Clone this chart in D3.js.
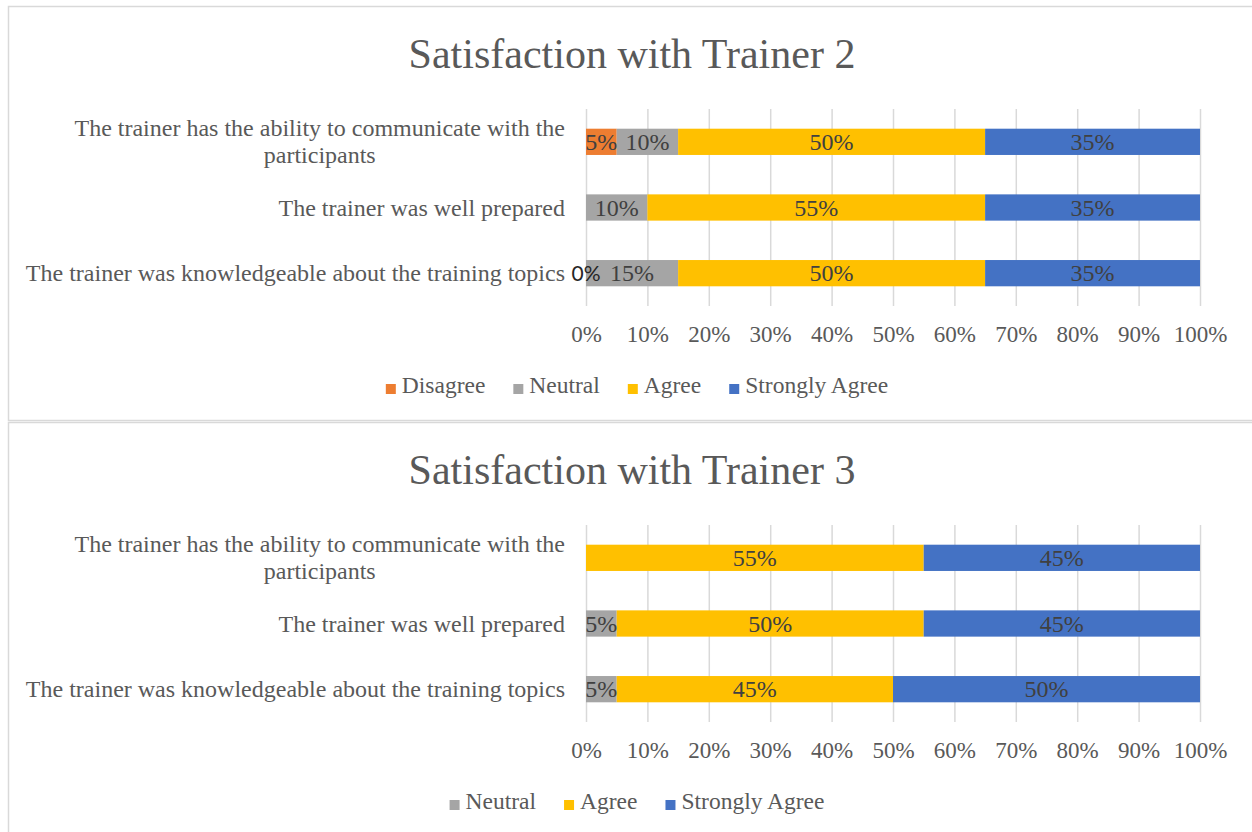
<!DOCTYPE html>
<html>
<head>
<meta charset="utf-8">
<script src="https://cdn.jsdelivr.net/npm/d3@7"></script>
<style>
  body { margin: 0; background: #fff; }
  svg { display: block; }
</style>
</head>
<body>
<svg id="chart" width="1252" height="832"></svg>
<script>
// Values (percent of responses).
var categories = [
  "The trainer has the ability to communicate with the participants",
  "The trainer was well prepared",
  "The trainer was knowledgeable about the training topics"
];
var categoryLines = [
  ["The trainer has the ability to communicate with the", "participants"],
  ["The trainer was well prepared"],
  ["The trainer was knowledgeable about the training topics"]
];
var tickValues = [0, 0.1, 0.2, 0.3, 0.4, 0.5, 0.6, 0.7, 0.8, 0.9, 1];

var seriesNames2 = ["Disagree", "Neutral", "Agree", "Strongly Agree"];
var disagree2 = [0.05, null, 0];
var neutral2 = [0.10, 0.10, 0.15];
var agree2 = [0.50, 0.55, 0.50];
var strongly2 = [0.35, 0.35, 0.35];

var seriesNames3 = ["Neutral", "Agree", "Strongly Agree"];
var neutral3 = [null, 0.05, 0.05];
var agree3 = [0.55, 0.50, 0.45];
var strongly3 = [0.45, 0.45, 0.50];

var colors = {
  "Disagree": "#ED7D31",
  "Neutral": "#A5A5A5",
  "Agree": "#FFC000",
  "Strongly Agree": "#4472C4"
};

var serif = "'Liberation Serif', 'Times New Roman', serif";
var svg = d3.select("#chart");

function draw_chart(top, title, names, values) {
  var g = svg.append("g").attr("transform", "translate(0," + top + ")");

  // Chart frame
  g.append("rect")
    .attr("x", 8.5).attr("y", 6.5)
    .attr("width", 1260).attr("height", 414)
    .attr("fill", "#fff")
    .attr("stroke", "#d9d9d9")
    .attr("stroke-width", 1.5);

  g.append("text")
    .attr("x", 632).attr("y", 68)
    .attr("text-anchor", "middle")
    .attr("font-family", serif)
    .attr("font-size", 42)
    .attr("fill", "#595959")
    .text(title);

  var x = d3.scaleLinear().domain([0, 1]).range([586, 1200]);
  var y = d3.scaleBand().domain(categories).range([109, 306])
    .paddingInner(0.6).paddingOuter(0.3);

  // Gridlines
  g.append("g")
    .attr("transform", "translate(0,306)")
    .call(d3.axisBottom(x).tickValues(tickValues).tickSize(-197).tickFormat(""))
    .call(function (s) {
      s.select(".domain").remove();
      s.selectAll("line").attr("stroke", "#d9d9d9").attr("stroke-width", 1.5);
    });

  // Tick labels
  g.append("g")
    .attr("transform", "translate(0,306)")
    .call(d3.axisBottom(x).tickValues(tickValues).tickSize(0).tickPadding(20)
      .tickFormat(d3.format(".0%")))
    .call(function (s) {
      s.select(".domain").remove();
      s.selectAll("text")
        .attr("font-family", serif)
        .attr("font-size", 23)
        .attr("fill", "#595959");
    });

  // Category labels
  categories.forEach(function (c, i) {
    var lines = categoryLines[i];
    var cy = y(c) + y.bandwidth() / 2;
    var t = g.append("text")
      .attr("font-family", serif)
      .attr("font-size", 24)
      .attr("fill", "#595959");
    lines.forEach(function (ln, j) {
      t.append("tspan").text(ln)
        .attr("y", cy + 8 + (j - (lines.length - 1) / 2) * 27);
    });
    // right-align the block, center lines inside it
    var widths = t.selectAll("tspan").nodes().map(function (n) { return n.getComputedTextLength(); });
    var w = d3.max(widths);
    t.selectAll("tspan")
      .attr("text-anchor", "middle")
      .attr("x", 565 - w / 2);
  });

  // Stacked bars
  var data = categories.map(function (c, i) {
    var row = { category: c };
    names.forEach(function (n, k) { row[n] = values[k][i]; });
    return row;
  });
  var stack = d3.stack().keys(names).value(function (d, k) { return d[k] || 0; });
  var layers = stack(data);

  var bars = g.append("g");
  var labels = g.append("g");

  layers.forEach(function (layer) {
    var key = layer.key;
    bars.append("g").selectAll("rect")
      .data(layer)
      .join("rect")
        .attr("x", function (d) { return x(d[0]); })
        .attr("y", function (d) { return y(d.data.category); })
        .attr("width", function (d) { return x(d[1]) - x(d[0]); })
        .attr("height", y.bandwidth())
        .attr("fill", colors[key]);

    labels.append("g").selectAll("text")
      .data(layer.filter(function (d) { return d.data[key] !== null; }))
      .join("text")
        .attr("x", function (d) { return (x(d[0]) + x(d[1])) / 2; })
        .attr("y", function (d) { return y(d.data.category) + y.bandwidth() / 2 + 8; })
        .attr("text-anchor", "middle")
        .attr("font-family", function (d) { return d.data[key] === 0 ? "Lato, 'Open Sans', sans-serif" : serif; })
        .attr("font-size", function (d) { return d.data[key] === 0 ? 21 : 24; })
        .attr("fill", function (d) { return d.data[key] === 0 ? "#262626" : "#404040"; })
        .text(function (d) { return d3.format(".0%")(d.data[key]); });
  });

  // Legend
  var leg = g.append("g");
  var items = leg.selectAll("g")
    .data(names)
    .join("g");
  items.append("rect")
    .attr("width", 10).attr("height", 10)
    .attr("y", -9)
    .attr("fill", function (d) { return colors[d]; });
  items.append("text")
    .attr("x", 16)
    .attr("y", 0)
    .attr("font-family", serif)
    .attr("font-size", 23.5)
    .attr("fill", "#595959")
    .text(function (d) { return d; });
  var pos = 0;
  var gap = 28;
  items.each(function () {
    var w = 16 + d3.select(this).select("text").node().getComputedTextLength();
    d3.select(this).attr("transform", "translate(" + pos + ",0)");
    pos += w + gap;
  });
  var total = pos - gap;
  leg.attr("transform", "translate(" + (637 - total / 2) + ",393)");
}

draw_chart(0, "Satisfaction with Trainer 2", seriesNames2, [disagree2, neutral2, agree2, strongly2]);
draw_chart(416, "Satisfaction with Trainer 3", seriesNames3, [neutral3, agree3, strongly3]);
</script>
</body>
</html>
